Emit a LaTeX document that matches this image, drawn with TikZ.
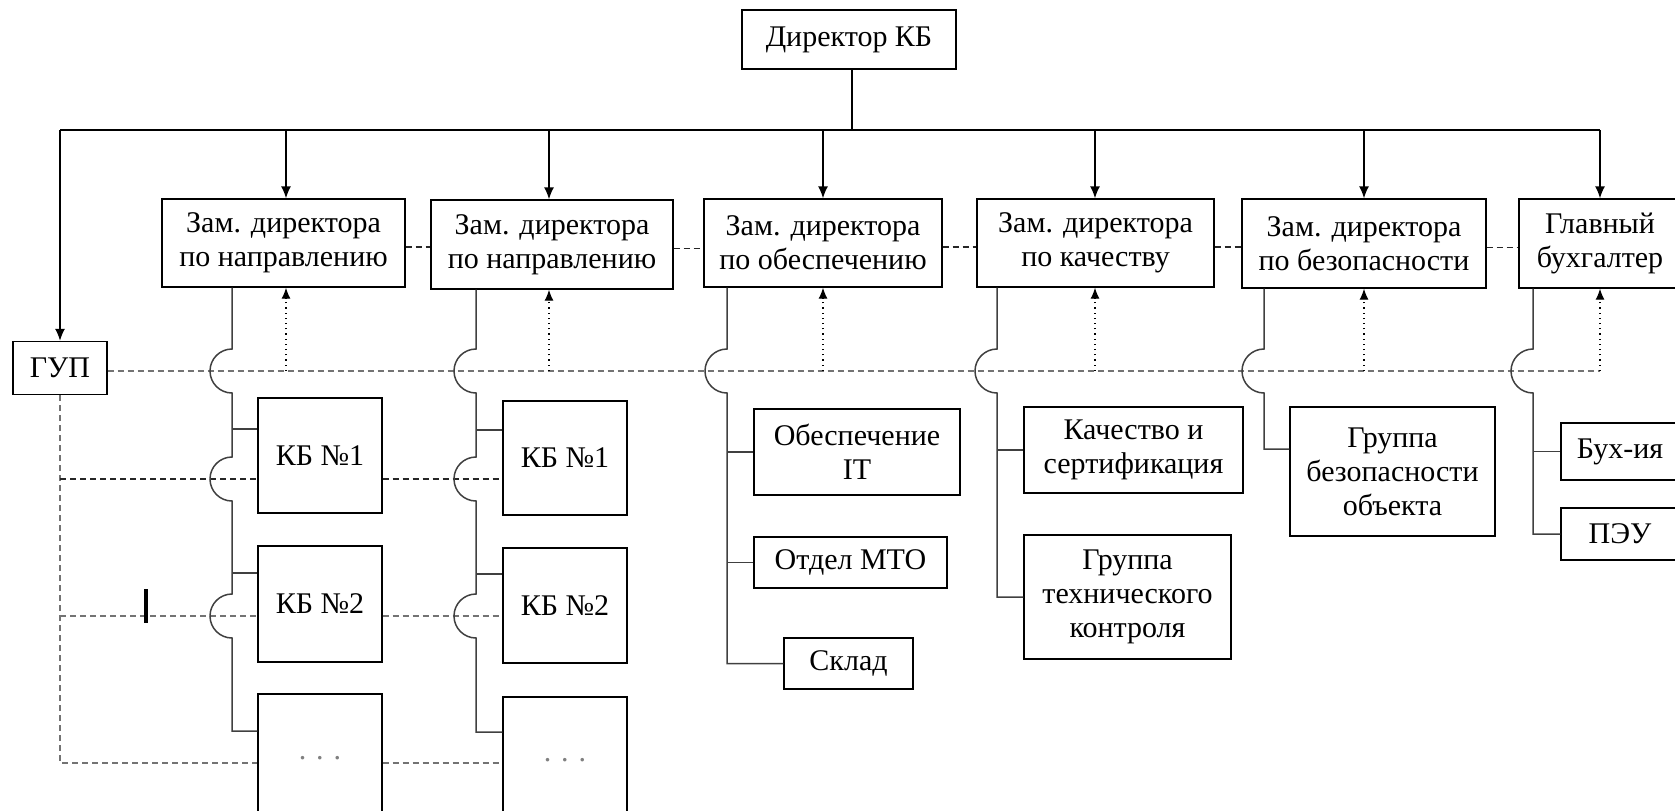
\documentclass[tikz,border=0pt]{standalone}
\usepackage{fontspec}
\setmainfont{Liberation Serif}
\usetikzlibrary{arrows.meta}
\begin{document}
\begin{tikzpicture}[x=0.5pt,y=-0.5pt,
  box/.style={draw=black,line width=0.7pt,align=center,inner sep=0pt,font=\fontsize{15}{17}\selectfont},
  conn/.style={line width=0.7pt},
  arr/.style={line width=0.7pt,-{Latex[length=6pt,width=5pt]}},
  darr/.style={line width=0.6pt,dotted,-{Latex[length=5.5pt,width=4.5pt]}},
  tree/.style={line width=0.75pt,draw=black!75},
  gdash/.style={line width=0.9pt,draw=black!55,dash pattern=on 3pt off 2pt},
  bdash/.style={line width=0.7pt,draw=black!85,dash pattern=on 3pt off 2pt}
]
\path[use as bounding box] (0,0) rectangle (1675,810);
\clip (0,0) rectangle (1675,810);

% top level
\node[box,minimum width=107pt,minimum height=29.5pt] (dir) at (849,39.5) {Директор КБ};
\node[box,minimum width=47pt,minimum height=26.5pt] (gup) at (60,368) {ГУП};
\node[box,minimum width=121.5pt,minimum height=44pt] (z1) at (283.5,243) {Зам. директора\\по направлению};
\node[box,minimum width=121pt,minimum height=44.5pt] (z2) at (552,244.5) {Зам. директора\\по направлению};
\node[box,minimum width=119pt,minimum height=44pt] (z3) at (823,243) {Зам. директора\\по обеспечению};
\node[box,minimum width=118.5pt,minimum height=44pt] (z4) at (1095.5,243) {Зам. директора\\по качеству};
\node[box,minimum width=122pt,minimum height=44.5pt] (z5) at (1364,243.5) {Зам. директора\\по безопасности};
\node[box,minimum width=81pt,minimum height=44.5pt] (z6) at (1600,243.5) {Главный\\бухгалтер};

% KB columns
\node[box,minimum width=62pt,minimum height=57.5pt] (kb11) at (320,455.5) {КБ №1};
\node[box,minimum width=62pt,minimum height=58pt] (kb12) at (320,604) {КБ №2};
\node[box,minimum width=62pt,minimum height=59pt] (kb13) at (320,753) {\strut\textcolor{black!50}{. . .}};
\node[box,minimum width=62pt,minimum height=57pt] (kb21) at (565,458) {КБ №1};
\node[box,minimum width=62pt,minimum height=57.5pt] (kb22) at (565,605.5) {КБ №2};
\node[box,minimum width=62pt,minimum height=58pt] (kb23) at (565,755) {\strut\textcolor{black!50}{. . .}};

% column 3
\node[box,minimum width=103pt,minimum height=43pt] (it) at (857,452) {Обеспечение\\IT};
\node[box,minimum width=96.5pt,minimum height=25.5pt] (mto) at (850.5,562.5) {Отдел МТО};
\node[box,minimum width=64.5pt,minimum height=25.5pt] (skl) at (848.5,663.5) {Склад};
% column 4
\node[box,minimum width=109.5pt,minimum height=43pt] (kach) at (1133.5,450) {Качество и\\сертификация};
\node[box,minimum width=103.5pt,minimum height=62pt] (gtk) at (1127.5,597) {Группа\\технического\\контроля};
% column 5
\node[box,minimum width=102.5pt,minimum height=64.5pt] (gbo) at (1392.5,471.5) {Группа\\безопасности\\объекта};
% column 6
\node[box,minimum width=59pt,minimum height=28.5pt] (bux) at (1620,451.5) {Бух-ия};
\node[box,minimum width=59pt,minimum height=26pt] (peu) at (1620,534) {ПЭУ};

% coordinates
\coordinate (bus) at (852,130);
\coordinate (busL) at (60,130);
\coordinate (busR) at (1600,130);
\coordinate (g1) at (286,371);
\coordinate (g2) at (549,371);
\coordinate (g3) at (823,371);
\coordinate (g4) at (1095,371);
\coordinate (g5) at (1364,371);
\coordinate (g6) at (1600,371);
\coordinate (t1) at (232,371);
\coordinate (t2) at (476,371);
\coordinate (t3) at (727,371);
\coordinate (t4) at (997,371);
\coordinate (t5) at (1264,371);
\coordinate (t6) at (1533,371);
\coordinate (j11) at (232,479);
\coordinate (j12) at (232,616);
\coordinate (j21) at (476,479);
\coordinate (j22) at (476,616);
\coordinate (b11) at (232,429);
\coordinate (b12) at (232,573);
\coordinate (b13) at (232,731);
\coordinate (b21) at (476,430);
\coordinate (b22) at (476,574);
\coordinate (b23) at (476,732);
\coordinate (b5) at (1264,449);
\coordinate (gv1) at (60,479);
\coordinate (gv2) at (60,616);
\coordinate (gv3) at (60,763);

% dashed links between deputies
\draw[bdash] ([yshift=-2pt]z1.east) -- ([yshift=-2pt]z1.east -| z2.west);
\draw[bdash] ([yshift=-2pt]z2.east) -- ([yshift=-2pt]z2.east -| z3.west);
\draw[bdash] ([yshift=-2pt]z3.east) -- ([yshift=-2pt]z3.east -| z4.west);
\draw[bdash] ([yshift=-2pt]z4.east) -- ([yshift=-2pt]z4.east -| z5.west);
\draw[bdash] ([yshift=-2pt]z5.east) -- ([yshift=-2pt]z5.east -| z6.west);

% GUP dashed lines
\draw[gdash] (gup.east |- g1) -- (g6);
\draw[gdash] (gup.south) -- (gv3) -- (gv3 -| kb13.west);
\draw[gdash] (gv3 -| kb13.east) -- (gv3 -| kb23.west);
\draw[bdash] (gv1) -- (gv1 -| kb11.west);
\draw[bdash] (gv1 -| kb11.east) -- (gv1 -| kb21.west);
\draw[gdash] (gv2) -- (gv2 -| kb12.west);
\draw[gdash] (gv2 -| kb12.east) -- (gv2 -| kb22.west);

% top structure
\draw[conn] (bus |- dir.south) -- (bus);
\draw[conn] (busL) -- (busR);
\draw[arr] (busL) -- (gup.north);
\foreach \i in {1,...,6}{
  \draw[arr] (g\i |- bus) -- (g\i |- z\i.north);
  \draw[darr] (g\i) -- (g\i |- z\i.south);
}

% tree lines with jumps
\draw[tree] (z1.south -| t1) -- ([yshift=11pt]t1) arc[start angle=90,end angle=270,radius=11pt]
  -- ([yshift=11pt]j11) arc[start angle=90,end angle=270,radius=11pt]
  -- ([yshift=11pt]j12) arc[start angle=90,end angle=270,radius=11pt]
  -- (b13) -- (b13 -| kb13.west);
\draw[tree] (b11) -- (b11 -| kb11.west);
\draw[tree] (b12) -- (b12 -| kb12.west);

\draw[tree] (z2.south -| t2) -- ([yshift=11pt]t2) arc[start angle=90,end angle=270,radius=11pt]
  -- ([yshift=11pt]j21) arc[start angle=90,end angle=270,radius=11pt]
  -- ([yshift=11pt]j22) arc[start angle=90,end angle=270,radius=11pt]
  -- (b23) -- (b23 -| kb23.west);
\draw[tree] (b21) -- (b21 -| kb21.west);
\draw[tree] (b22) -- (b22 -| kb22.west);

\draw[tree] (z3.south -| t3) -- ([yshift=11pt]t3) arc[start angle=90,end angle=270,radius=11pt]
  -- (t3 |- skl.west) -- (skl.west);
\draw[tree] (t3 |- it.west) -- (it.west);
\draw[tree] (t3 |- mto.west) -- (mto.west);

\draw[tree] (z4.south -| t4) -- ([yshift=11pt]t4) arc[start angle=90,end angle=270,radius=11pt]
  -- (t4 |- gtk.west) -- (gtk.west);
\draw[tree] (t4 |- kach.west) -- (kach.west);

\draw[tree] (z5.south -| t5) -- ([yshift=11pt]t5) arc[start angle=90,end angle=270,radius=11pt]
  -- (b5) -- (b5 -| gbo.west);

\draw[tree] (z6.south -| t6) -- ([yshift=11pt]t6) arc[start angle=90,end angle=270,radius=11pt]
  -- (t6 |- peu.west) -- (peu.west);
\draw[tree] (t6 |- bux.west) -- (bux.west);

% stray mark
\draw[line width=2pt] (146,589) -- (146,623);
\end{tikzpicture}
\end{document}
